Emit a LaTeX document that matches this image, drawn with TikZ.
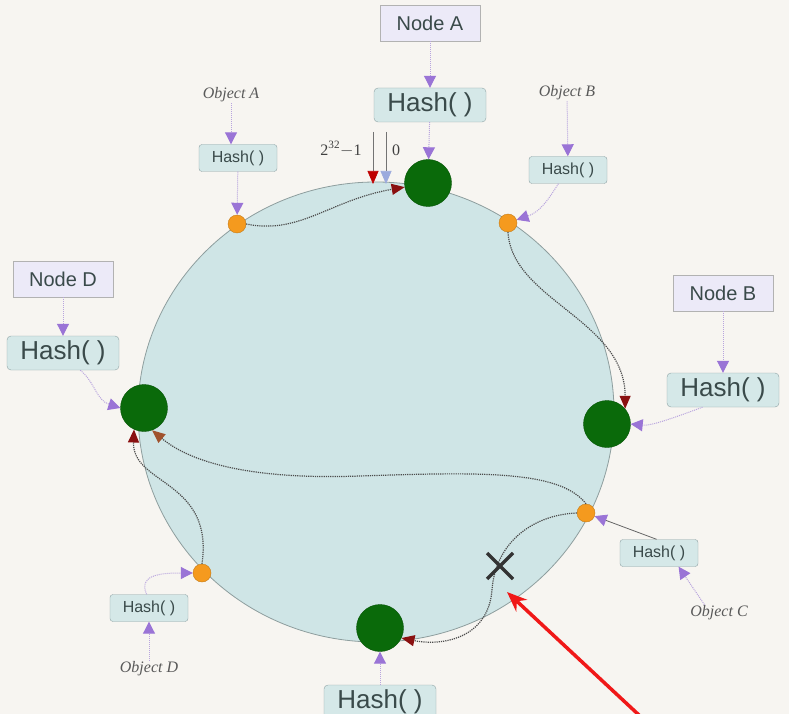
\documentclass[tikz,border=0pt]{standalone}
\usepackage{fontspec}
\setmainfont{Liberation Serif}
\setsansfont{Liberation Sans}
\usetikzlibrary{arrows.meta}
\definecolor{bg}{HTML}{F7F5F1}
\definecolor{ringfill}{HTML}{CFE5E6}
\definecolor{ringline}{HTML}{8E9E9E}
\definecolor{lav}{HTML}{ECEAF8}
\definecolor{hashfill}{HTML}{D5E8E8}
\definecolor{hashline}{HTML}{8FA3A5}
\definecolor{gnode}{HTML}{0A6A0A}
\definecolor{odot}{HTML}{F59A1E}
\definecolor{purp}{HTML}{9A74D6}
\definecolor{purpline}{HTML}{B8A4DE}
\definecolor{dred}{HTML}{8A1010}
\definecolor{brn}{HTML}{A0522D}
\definecolor{txt}{HTML}{3A4A4A}
\definecolor{redarrow}{HTML}{F01818}
\tikzset{
  nodebox/.style={draw=gray!60, fill=lav, text=txt, font=\sffamily\fontsize{20}{22}\selectfont, minimum width=100pt, minimum height=36pt, inner sep=0pt},
  hashbig/.style={draw=hashline, fill=hashfill, rounded corners=4pt, text=txt, font=\sffamily\fontsize{26}{28}\selectfont, minimum width=112pt, minimum height=34pt, inner sep=0pt},
  hashsmall/.style={draw=hashline, fill=hashfill, rounded corners=3pt, text=txt, font=\sffamily\fontsize{16}{18}\selectfont, minimum width=78pt, minimum height=27pt, inner sep=0pt},
  objtxt/.style={text=black!65, font=\itshape\fontsize{16}{18}\selectfont, inner sep=1pt},
  gdot/.style={circle, fill=gnode, draw=gnode!80!black, minimum size=47pt, inner sep=0pt},
  odotst/.style={circle, fill=odot, draw=odot!80!black, minimum size=18pt, inner sep=0pt},
  parr/.style={densely dotted, draw=purpline, line width=1pt, -{Triangle[length=12pt,width=12pt,color=purp]}},
  rarr/.style={densely dotted, draw=black!70, line width=1.2pt, -{Triangle[length=13pt,width=11pt,color=dred]}},
}
\begin{document}
\begin{tikzpicture}[x=1pt,y=-1pt]
\useasboundingbox (0,0) rectangle (789,714);
\clip (0,0) rectangle (789,714);
\fill[bg] (0,0) rectangle (789,714);
% ring
\draw[ringline, fill=ringfill, line width=0.8pt] (376,412) ellipse [x radius=238, y radius=230];

% nodes on ring
\node[gdot] (gA) at (428,183) {};
\node[gdot] (gB) at (607,424) {};
\node[gdot] (gD) at (144,408) {};
\node[gdot] (gBot) at (380,628) {};
\node[odotst] (oA) at (237,224) {};
\node[odotst] (oB) at (508,223) {};
\node[odotst] (oC) at (586,513) {};
\node[odotst] (oD) at (202,573) {};

% boxes
\node[nodebox] (NA) at (430,23) {Node A};
\node[hashbig] (HA) at (430,105) {Hash( )};
\node[nodebox] (NB) at (723,293) {Node B};
\node[hashbig] (HB) at (723,390) {Hash( )};
\node[nodebox] (ND) at (63,279) {Node D};
\node[hashbig] (HD) at (63,353) {Hash( )};
\node[hashbig] (HBot) at (380,702) {Hash( )};
\node[hashsmall] (hA) at (238,158) {Hash( )};
\node[hashsmall] (hB) at (568,170) {Hash( )};
\node[hashsmall] (hC) at (659,553) {Hash( )};
\node[hashsmall] (hD) at (149,608) {Hash( )};
\node[objtxt] (objA) at (231,95) {Object A};
\node[objtxt] (objB) at (567,93) {Object B};
\node[objtxt] (objC) at (719,613) {Object C};
\node[objtxt] (objD) at (149,669) {Object D};

% 2^32-1 and 0 markers
\node[font=\fontsize{16}{18}\selectfont, text=black!75] (lmax) at (341,149) {2\textsuperscript{32}$-$1};
\node[font=\fontsize{16}{18}\selectfont, text=black!75] (lzero) at (396,150) {0};
\coordinate (rtop) at (373,132);
\coordinate (rbot) at (373,184);
\coordinate (btop) at (386,132);
\coordinate (bbot) at (386,184);
\draw[black!55, line width=0.6pt, -{Triangle[length=13pt,width=11pt,color=red!75!black]}] (rtop) -- (rbot);
\draw[black!55, line width=0.6pt, -{Triangle[length=13pt,width=11pt,color=cyan!35!blue!40]}] (btop) -- (bbot);

% purple hash arrows
\draw[parr] (NA) -- (HA);
\draw[parr] (HA) -- (gA);
\draw[parr] (objA.south) -- (objA.south |- hA.north);
\draw[parr] (hA) -- (oA);
\draw[parr] (objB) -- (hB);
\draw[parr] (hB.-125) .. controls (548,200) and (540,212) .. (oB.20);
\draw[parr] (NB) -- (HB);
\draw[parr] (HB.-140) .. controls (668,420) and (650,426) .. (gB.east);
\draw[parr] (ND) -- (HD);
\draw[parr] (HD.-45) .. controls (95,382) and (96,400) .. (gD.west);
\draw[parr] (objD) -- (hD);
\draw[parr] (hD.100) .. controls (138,575) and (160,573) .. (oD.west);
\draw[parr] (HBot) -- (gBot);
\draw[parr] (objC.150) -- (hC.-35);
\draw[draw=black!60, line width=0.8pt, -{Triangle[length=12pt,width=12pt,color=purp]}] (hC.100) -- (oC.-20);

% object to node dotted arrows
\draw[rarr] (oA.east) .. controls (300,235) and (330,200) .. (gA.190);
\draw[rarr] (oB.south) .. controls (512,300) and (625,320) .. (gB.40);
\draw[rarr, -{Triangle[length=13pt,width=11pt,color=brn]}] (oC.north) .. controls (560,470) and (480,472) .. (360,476) .. controls (250,480) and (190,462) .. (gD.-70);
\draw[rarr] (oC.west) .. controls (530,515) and (495,545) .. (492,590) .. controls (488,640) and (440,646) .. (gBot.-25);
\draw[rarr] (oD.north) .. controls (214,480) and (132,485) .. (gD.-115);

% X mark
\coordinate (xm) at (500,566);
\draw[black!80, line width=3.5pt] ([shift={(-13,-13)}]xm) -- ([shift={(13,13)}]xm);
\draw[black!80, line width=3.5pt] ([shift={(-13,13)}]xm) -- ([shift={(13,-13)}]xm);

% red pointer
\coordinate (rpStart) at (640,716);
\coordinate (rpEnd) at (507,592);
\draw[redarrow, line width=3.5pt, -{Stealth[length=20pt,width=16pt]}] (rpStart) -- (rpEnd);
\end{tikzpicture}
\end{document}
